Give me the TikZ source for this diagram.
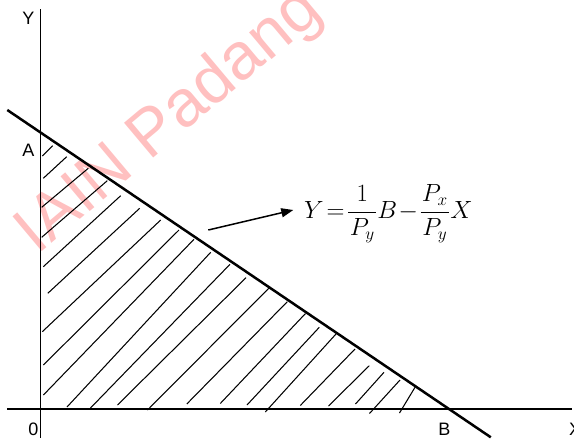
\documentclass[tikz,border=0pt]{standalone}
\usepackage{fontspec}
\usepackage{graphicx}
\setmainfont{Liberation Sans}
\usetikzlibrary{arrows.meta}
\definecolor{wmark}{RGB}{255,192,192}
\begin{document}
\begin{tikzpicture}[x=1pt,y=-1pt,
  axisline/.style={line width=1.3pt,line cap=butt},
  budget/.style={line width=2.5pt},
  hatch/.style={line width=1.05pt},
  lbl/.style={inner sep=0pt,font=\fontsize{18}{18}\selectfont},
  pointer/.style={line width=1.5pt,-{Triangle[length=12pt,width=9pt]}},
  ]
\useasboundingbox (0,0) rectangle (574,439);
% watermark
\node[rotate=40,text=wmark,inner sep=0pt,font=\fontsize{66}{66}\selectfont] (wm) at (170,122) {IAIN Padang};
% axes
\coordinate (ytop) at (40.5,9);
\coordinate (ybot) at (40.5,438);
\coordinate (xl) at (7,409);
\coordinate (xr) at (572,409);
\draw[axisline] (ytop) -- (ybot);
\draw[axisline] (xl) -- (xr);
% hatching
\foreach \ax/\ay/\bx/\by in {
 42.3/156/52.7/145.7, 43.3/178.3/66.7/156.7, 41.7/207.3/88.3/168.3,
 41.7/237.3/107.3/180.7, 43.3/266.7/120.7/195.7, 47.8/293.3/139.7/208.3,
 42.3/331.7/160.7/220, 43.4/365/179/230, 43.4/395/194/239.3,
 67/407/210.7/252.3, 90.5/408/230/264.3, 117.5/405/246/277.7,
 147.5/410/269.3/287.7, 186.8/404/287.3/301.7, 220.3/403.5/305.5/313.5,
 247/405/319.3/327.3, 265.3/412/336/334, 300.3/405.5/355/349,
 328.5/406/369.3/365.7, 355.5/404/384/372.3, 369.5/413.5/400/380,
 399.5/413/415/387.3}
 \draw[hatch] (\ax,\ay) -- (\bx,\by);
% budget line
\coordinate (bl1) at (7.3,110);
\coordinate (bl2) at (490.8,437.3);
\draw[budget] (bl1) -- (bl2);
% labels
\node[lbl] (lY) at (28.5,18.3) {Y};
\node[lbl] (lA) at (28.3,150) {A};
\node[lbl] (l0) at (33.3,429) {0};
\node[lbl] (lB) at (444.5,429) {B};
\node[lbl] (lX) at (575,429) {X};
% equation and arrow
\node[anchor=base west,inner sep=0pt,font=\fontsize{23}{27}\selectfont] (eq) at (304,218.3)
  {$\displaystyle Y\mskip2mu{=}\mskip2mu\frac{\mskip1mu 1\mskip1mu}{\mskip1mu P_y\mskip1mu}B\mskip1mu{-}\mskip1mu\frac{\mskip1mu P_x\mskip1mu}{\mskip1mu P_y\mskip1mu}X$};
\coordinate (arrS) at (208.3,230);
\coordinate (arrE) at (293.3,210);
\draw[pointer] (arrS) -- (arrE);
\end{tikzpicture}
\end{document}
